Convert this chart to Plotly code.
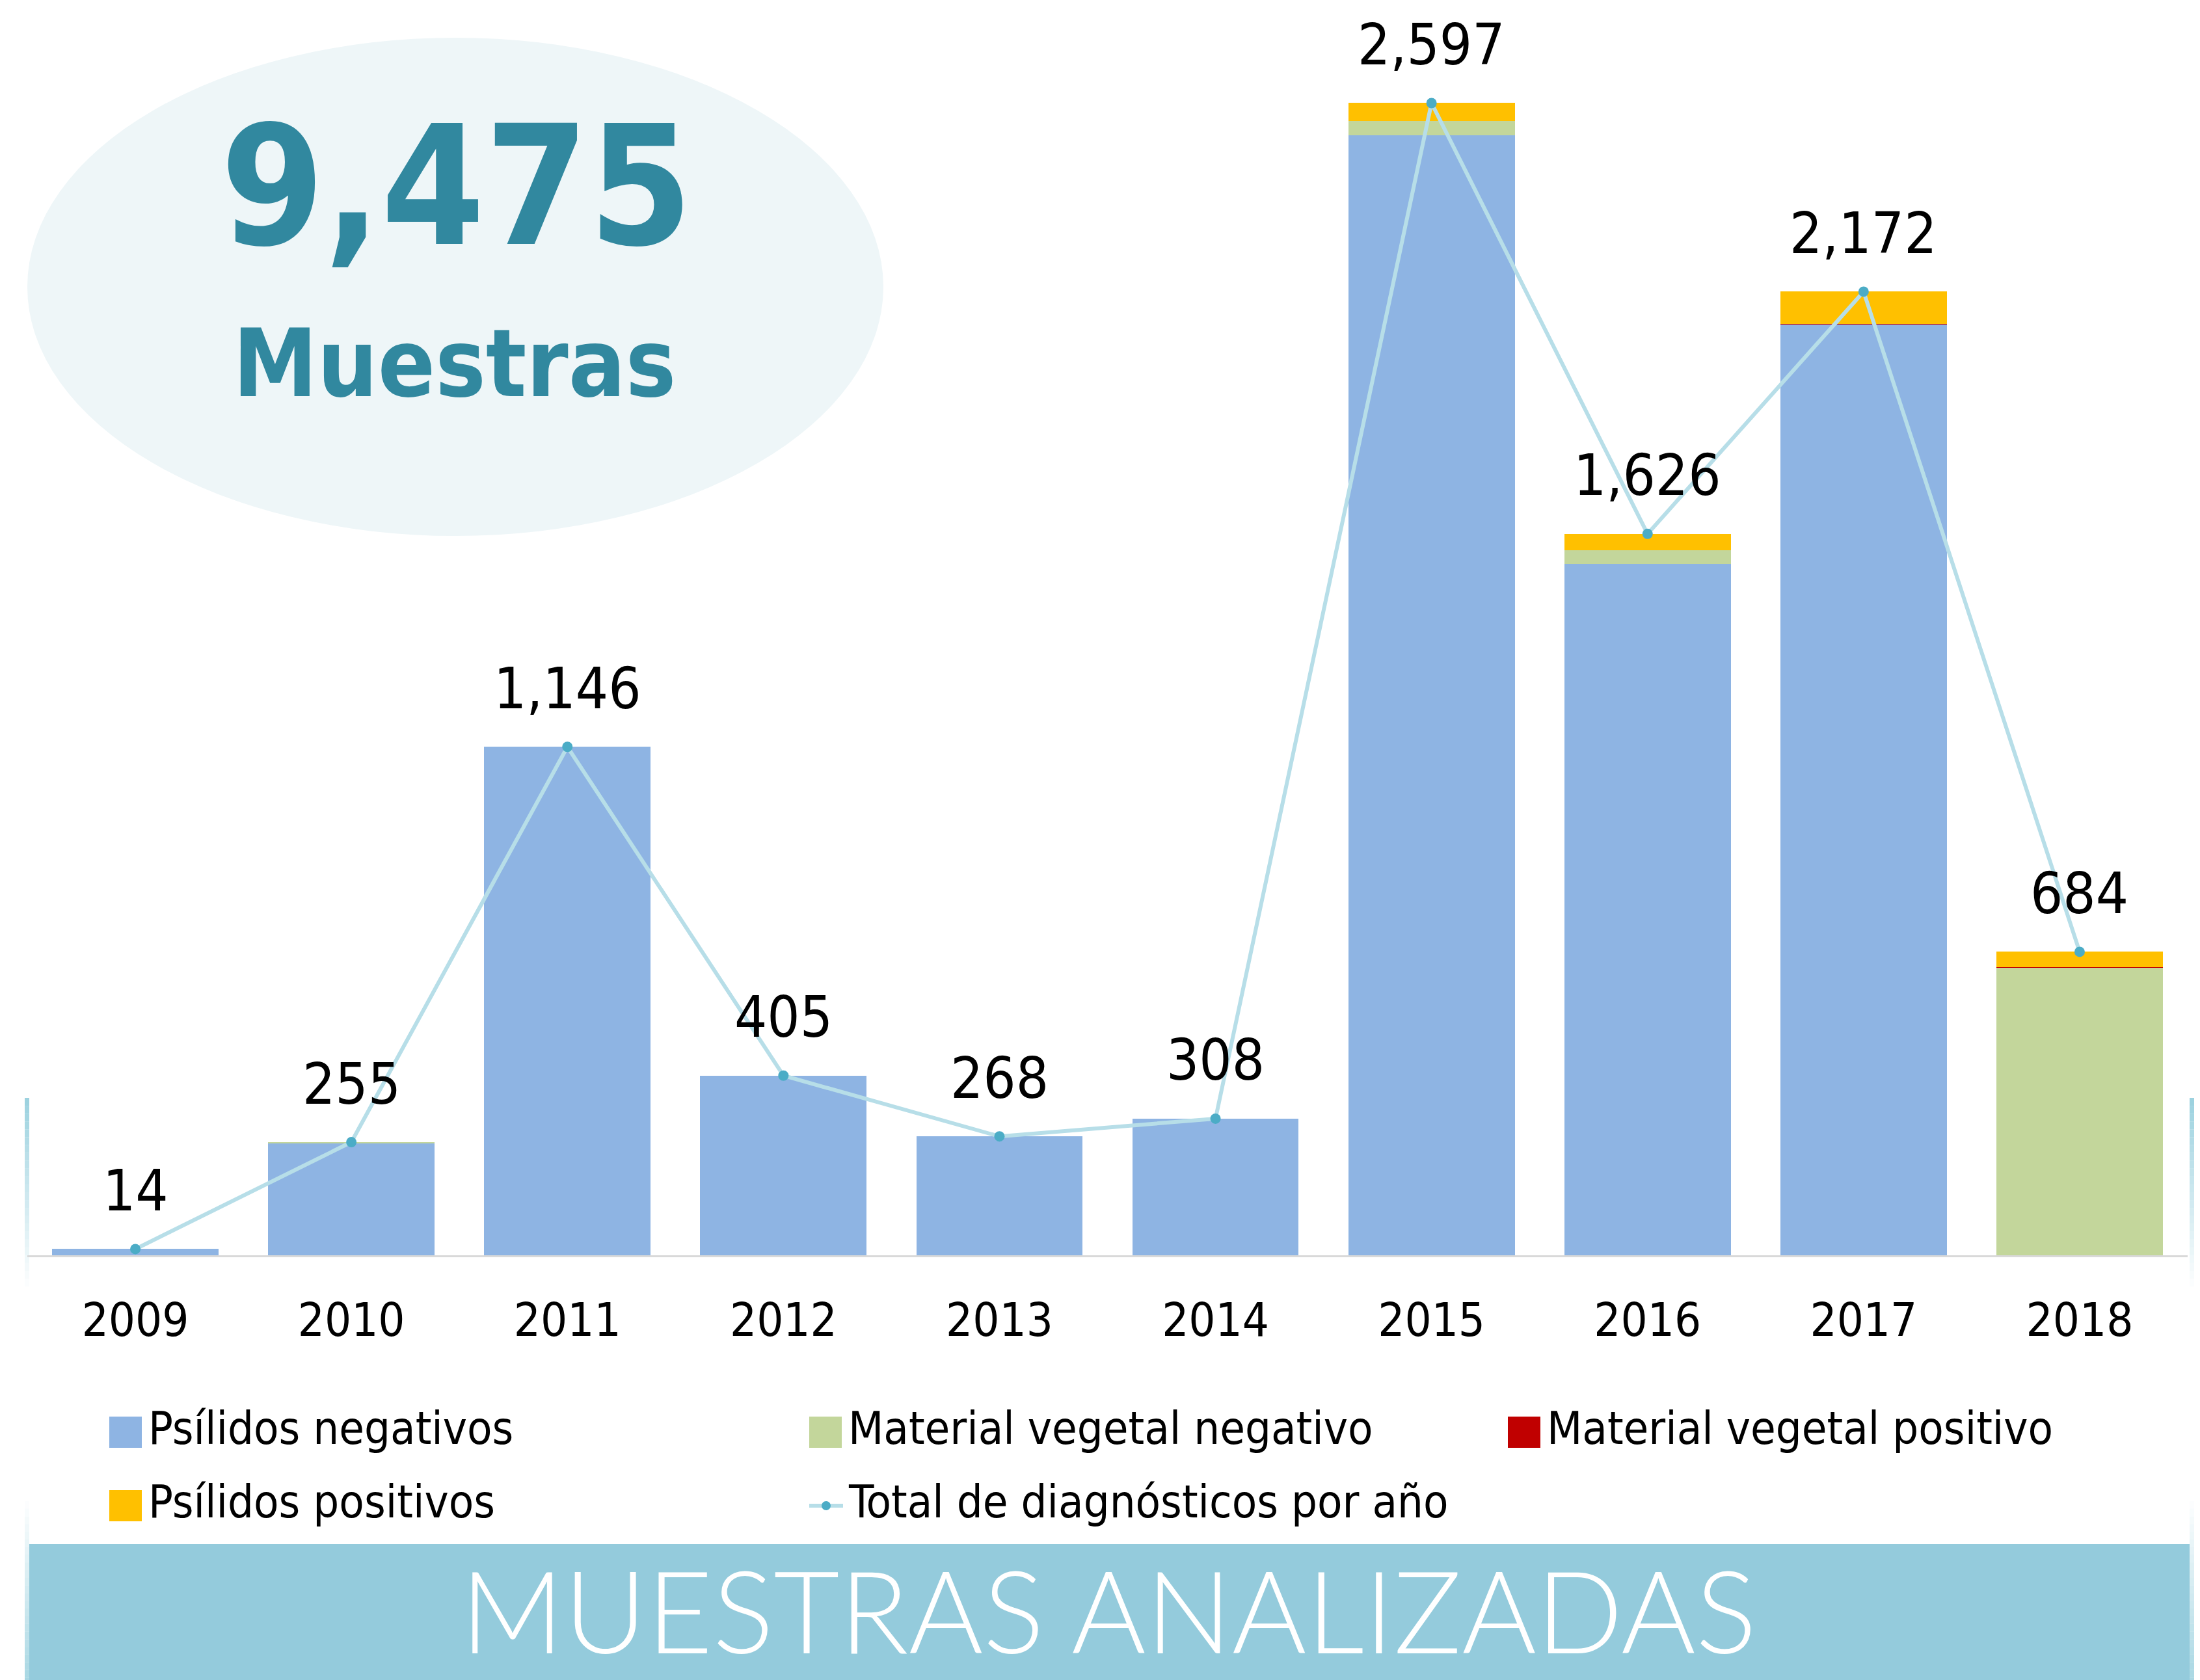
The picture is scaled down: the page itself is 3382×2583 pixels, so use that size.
import plotly.graph_objects as go

# ---------------- data ----------------
years = ['2009', '2010', '2011', '2012', '2013', '2014', '2015', '2016', '2017', '2018']
psilidos_negativos = [14, 252, 1146, 405, 268, 308, 2525, 1558, 2098, 0]
material_vegetal_negativo = [0, 3, 0, 0, 0, 0, 31, 31, 0, 649]
material_vegetal_positivo = [0, 0, 0, 0, 0, 0, 0, 0, 2, 1]
psilidos_positivos = [0, 0, 0, 0, 0, 0, 41, 37, 72, 34]
total_diagnosticos = [14, 255, 1146, 405, 268, 308, 2597, 1626, 2172, 684]

series_names = ['Psílidos negativos', 'Material vegetal negativo',
                'Material vegetal positivo', 'Psílidos positivos']
line_name = 'Total de diagnósticos por año'
big_number_label = 'Muestras'
banner_title = 'MUESTRAS ANALIZADAS'

# ---------------- styling ----------------
W, H = 3382, 2583
ML, MR, MT, MB = 34, 27, 12, 661
PW = W - ML - MR
PH = H - MT - MB
BASE = H - MB

C_BLUE = '#8EB4E3'
C_GREEN = '#C3D69B'
C_RED = '#C00000'
C_YELLOW = '#FFC000'
C_LINE = '#B7DEE8'
C_MARK = '#4BACC6'
C_TEAL = '#31889F'
C_BANNER = '#94CBDC'
NARROW = ('Noto Sans ExtraCondensed, Noto Sans Condensed, Liberation Sans Narrow, '
          'DejaVu Sans Condensed, Arial Narrow, sans-serif')


def px(x):
    return (x - ML) / PW


def py(y):
    return (BASE - y) / PH


fig = go.Figure()
for name, vals, col in zip(series_names,
                           [psilidos_negativos, material_vegetal_negativo,
                            material_vegetal_positivo, psilidos_positivos],
                           [C_BLUE, C_GREEN, C_RED, C_YELLOW]):
    fig.add_trace(go.Bar(x=years, y=vals, name=name, marker_color=col,
                         marker_line_width=0, showlegend=False))

fig.add_trace(go.Scatter(x=years, y=total_diagnosticos, name=line_name,
                         mode='lines+markers',
                         line=dict(color=C_LINE, width=6),
                         marker=dict(color=C_MARK, size=16),
                         showlegend=False))

annotations = []
# data labels above the line points (category index on the category axis)
for i, v in enumerate(total_diagnosticos):
    annotations.append(dict(x=i, y=v, xref='x', yref='y', text=f'{v:,}',
                            showarrow=False, yshift=90, yanchor='middle',
                            font=dict(family=NARROW, size=88, color='black')))

shapes = []
# ellipse
shapes.append(dict(type='circle', xref='paper', yref='paper', layer='below',
                   x0=px(34), x1=px(1350), y0=py(816), y1=py(50),
                   fillcolor='#EEF6F8', line=dict(width=0)))
annotations.append(dict(xref='paper', yref='paper', x=px(694), y=py(278),
                        text=f'{sum(total_diagnosticos):,}', showarrow=False,
                        xanchor='center', yanchor='middle',
                        font=dict(family=NARROW, size=255, color=C_TEAL, weight='bold')))
annotations.append(dict(xref='paper', yref='paper', x=px(690), y=py(550),
                        text=big_number_label, showarrow=False,
                        xanchor='center', yanchor='middle',
                        font=dict(family=NARROW, size=145, color=C_TEAL, weight='bold')))

# legend (manual, large swatches)
legend_items = [
    (series_names[0], C_BLUE, 160, 2194, 'box'),
    (series_names[1], C_GREEN, 1236, 2194, 'box'),
    (series_names[2], C_RED, 2310, 2194, 'box'),
    (series_names[3], C_YELLOW, 160, 2307, 'box'),
    (line_name, C_LINE, 1236, 2307, 'line'),
]
for name, col, x0, yc, kind in legend_items:
    if kind == 'box':
        shapes.append(dict(type='rect', xref='paper', yref='paper',
                           x0=px(x0), x1=px(x0 + 50), y0=py(yc + 24), y1=py(yc - 24),
                           fillcolor=col, line=dict(width=0)))
    else:
        shapes.append(dict(type='line', xref='paper', yref='paper',
                           x0=px(x0), x1=px(x0 + 52), y0=py(yc), y1=py(yc),
                           line=dict(color=C_LINE, width=6)))
        shapes.append(dict(type='circle', xref='paper', yref='paper',
                           x0=px(x0 + 19), x1=px(x0 + 33), y0=py(yc + 7), y1=py(yc - 7),
                           fillcolor=C_MARK, line=dict(width=0)))
    annotations.append(dict(xref='paper', yref='paper', x=px(x0 + 58), y=py(yc - 6),
                            text=name, showarrow=False, xanchor='left', yanchor='middle',
                            font=dict(family=NARROW, size=70, color='black')))

# decorative gradient edges
N = 24
for side_x in (30, 3358):
    for i in range(N):
        ya = 1680 + (1970 - 1680) * i / N
        yb = 1680 + (1970 - 1680) * (i + 1) / N
        a = 0.9 * (1 - i / N)
        shapes.append(dict(type='rect', xref='paper', yref='paper', layer='below',
                           x0=px(side_x), x1=px(side_x + 7), y0=py(yb), y1=py(ya),
                           fillcolor=f'rgba(146,205,220,{a:.3f})', line=dict(width=0)))
        yc0 = 2300 + (2583 - 2300) * i / N
        yc1 = 2300 + (2583 - 2300) * (i + 1) / N
        a2 = 0.8 * (i + 1) / N
        shapes.append(dict(type='rect', xref='paper', yref='paper', layer='below',
                           x0=px(side_x), x1=px(side_x + 7), y0=py(yc1), y1=py(yc0),
                           fillcolor=f'rgba(146,205,220,{a2:.3f})', line=dict(width=0)))

# bottom banner
shapes.append(dict(type='rect', xref='paper', yref='paper',
                   x0=px(37), x1=px(3358), y0=py(2590), y1=py(2366),
                   fillcolor=C_BANNER, line=dict(width=0)))
annotations.append(dict(xref='paper', yref='paper', x=px(1696), y=py(2466),
                        text=banner_title, showarrow=False, xanchor='center', yanchor='middle',
                        font=dict(family='Lato, Open Sans, sans-serif', size=175,
                                  color='white', weight=300)))

fig.update_layout(
    width=W, height=H,
    margin=dict(l=ML, r=MR, t=MT, b=MB, pad=0),
    paper_bgcolor='white', plot_bgcolor='white',
    barmode='stack', bargap=0.23,
    showlegend=False,
    xaxis=dict(type='category', range=[-0.5, len(years) - 0.5], autorange=False,
               showline=True, linecolor='#D9D9D9', linewidth=3,
               ticks='', showgrid=False, zeroline=False, ticklabelstandoff=35,
               tickfont=dict(family=NARROW, size=72, color='black')),
    yaxis=dict(visible=False, range=[0, 2800], showgrid=False, zeroline=False),
    shapes=shapes,
    annotations=annotations,
)

fig.write_html('out.html')
